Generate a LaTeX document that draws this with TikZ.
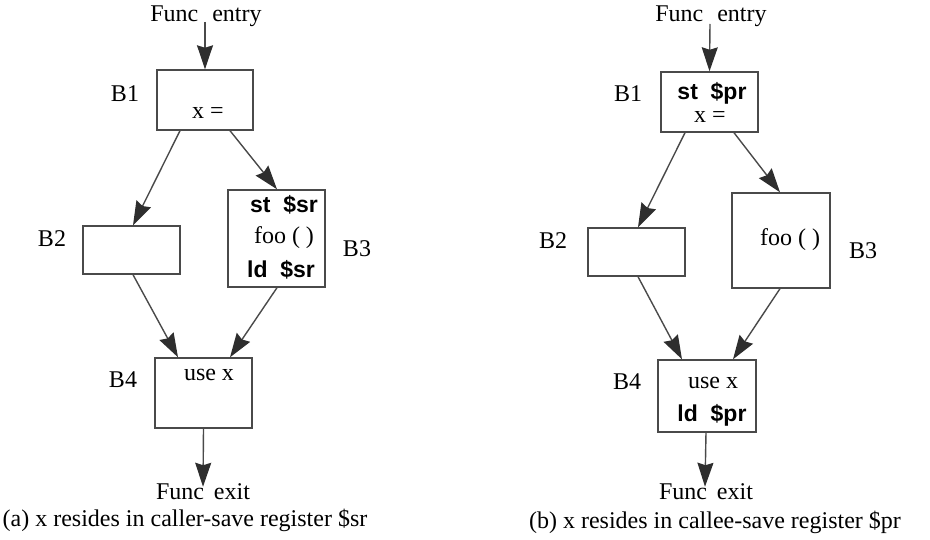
\documentclass[tikz,border=0pt]{standalone}
\usepackage{fontspec}
\setmainfont{Liberation Serif}
\newfontfamily\hv{Liberation Sans}
\usetikzlibrary{arrows.meta}
\definecolor{ln}{HTML}{4a4a4a}
\definecolor{tip}{HTML}{2e2e2e}
\tikzset{
  blk/.style={draw=ln, line width=1.4pt, inner sep=0pt, fill=none},
  txt/.style={inner sep=0pt, font=\fontsize{24}{28}\selectfont},
  bld/.style={inner sep=0pt, font=\fontsize{23}{26}\hv\bfseries},
  flowarrow/.style={draw=ln, line width=1.4pt, arrows={-Stealth[inset=2.5pt,length=24pt,width=16pt,fill=tip,color=tip]}},
}
\begin{document}
\begin{tikzpicture}[x=1pt,y=-1pt]
\useasboundingbox (0,0) rectangle (930,540);
% ---------- left (a) ----------
\node[txt] (aentry) at (206,16) {Func\hspace{14pt}entry};
\coordinate (ain) at (205,22);
\node[blk, minimum width=96pt, minimum height=60pt] (a1) at (205,100) {};
\node[blk, minimum width=97pt, minimum height=48pt] (a2) at (131.5,250) {};
\node[blk, minimum width=97pt, minimum height=97pt] (a3) at (276.5,238.5) {};
\node[blk, minimum width=97pt, minimum height=70pt] (a4) at (203.5,393) {};
\node[txt] (ax) at (208,113) {x =};
\node[bld] (ast) at (284,205) {st\ \ \$sr};
\node[txt] (afoo) at (284,238) {foo ( )};
\node[bld] (ald) at (281,270) {ld\ \ \$sr};
\node[txt] (ause) at (209,375) {use x};
\node[txt] (al1) at (125,94) {B1};
\node[txt] (al2) at (52,239) {B2};
\node[txt] (al3) at (357,249) {B3};
\node[txt] (al4) at (123,380) {B4};
\node[txt] (aexit) at (203,492) {Func\hspace{10pt}exit};
\node[txt] (acap) at (185,520) {(a) x resides in caller-save register \$sr};
\draw[flowarrow] (ain) -- (a1.north);
\draw[flowarrow] ([xshift=-25pt]a1.south) -- ([xshift=1.5pt]a2.north);
\draw[flowarrow] ([xshift=25pt]a1.south) -- ([xshift=0.5pt]a3.north);
\draw[flowarrow] ([xshift=1.5pt]a2.south) -- ([xshift=-25.5pt]a4.north);
\draw[flowarrow] ([xshift=0.5pt]a3.south) -- ([xshift=26.5pt]a4.north);
\draw[flowarrow] (a4.south) -- ([yshift=-3pt]aexit.north);
% ---------- right (b) ----------
\node[txt] (bentry) at (711,16) {Func\hspace{14pt}entry};
\coordinate (bin) at (710,24);
\node[blk, minimum width=97pt, minimum height=60pt] (b1) at (709.5,102) {};
\node[blk, minimum width=97pt, minimum height=48pt] (b2) at (636.5,252) {};
\node[blk, minimum width=98pt, minimum height=95pt] (b3) at (781,240.5) {};
\node[blk, minimum width=98pt, minimum height=72pt] (b4) at (707,396) {};
\node[bld] (bst) at (712,93) {st\ \ \$pr};
\node[txt] (bx) at (710,117) {x =};
\node[txt] (bfoo) at (790,240) {foo ( )};
\node[txt] (buse) at (713,383) {use x};
\node[bld] (bld1) at (712,415) {ld\ \ \$pr};
\node[txt] (bl1) at (628,94) {B1};
\node[txt] (bl2) at (553,241) {B2};
\node[txt] (bl3) at (863,251) {B3};
\node[txt] (bl4) at (627,382) {B4};
\node[txt] (bexit) at (706,492) {Func\hspace{10pt}exit};
\node[txt] (bcap) at (715,522) {(b) x resides in callee-save register \$pr};
\draw[flowarrow] (bin) -- (b1.north);
\draw[flowarrow] ([xshift=-24.5pt]b1.south) -- ([xshift=1.5pt]b2.north);
\draw[flowarrow] ([xshift=24.5pt]b1.south) -- ([xshift=-1pt]b3.north);
\draw[flowarrow] ([xshift=1.5pt]b2.south) -- ([xshift=-25pt]b4.north);
\draw[flowarrow] ([xshift=-1pt]b3.south) -- ([xshift=26pt]b4.north);
\draw[flowarrow] ([xshift=-1pt]b4.south) -- ([xshift=-1pt,yshift=-3pt]bexit.north);
\end{tikzpicture}
\end{document}
